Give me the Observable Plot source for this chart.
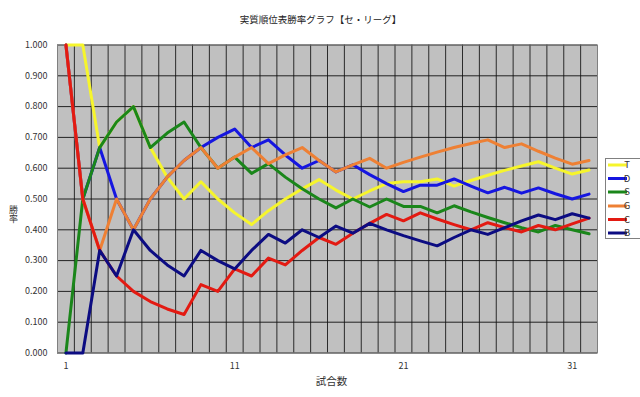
<!DOCTYPE html>
<html><head><meta charset="utf-8">
<script src="https://cdn.jsdelivr.net/npm/d3@7"></script>
<script src="https://cdn.jsdelivr.net/npm/@observablehq/plot@0.6"></script>
<style>
body{margin:0;background:#fff;}
svg{display:block}
.ylab text{writing-mode:vertical-rl;text-orientation:upright;}
</style>
</head><body><div id="chart"></div>
<script>
const titleText = "実質順位表勝率グラフ【セ・リーグ】";
const xLabel = "試合数";
const yLabel = "勝率";
const games = [1,2,3,4,5,6,7,8,9,10,11,12,13,14,15,16,17,18,19,20,21,22,23,24,25,26,27,28,29,30,31,32];
const teamNames = ["T","D","S","G","C","B"];
const teamColors = ["#f6f52c","#1616e0","#1a861a","#ee8034","#e31a12","#0c0c82"];
const T = [1.000,1.000,0.667,0.750,0.800,0.667,0.571,0.500,0.556,0.500,0.455,0.417,0.462,0.500,0.533,0.563,0.529,0.500,0.526,0.550,0.556,0.556,0.565,0.542,0.560,0.577,0.593,0.607,0.621,0.600,0.581,0.594];
const D = [1.000,0.500,0.667,0.500,0.400,0.500,0.571,0.625,0.667,0.700,0.727,0.667,0.692,0.643,0.600,0.625,0.588,0.611,0.579,0.550,0.524,0.545,0.545,0.565,0.542,0.520,0.538,0.519,0.536,0.517,0.500,0.516];
const S = [0.000,0.500,0.667,0.750,0.800,0.667,0.714,0.750,0.667,0.600,0.636,0.583,0.615,0.571,0.533,0.500,0.471,0.500,0.474,0.500,0.476,0.476,0.455,0.478,0.458,0.440,0.423,0.407,0.393,0.414,0.400,0.387];
const G = [1.000,0.500,0.333,0.500,0.400,0.500,0.571,0.625,0.667,0.600,0.636,0.667,0.615,0.643,0.667,0.625,0.588,0.611,0.632,0.600,0.619,0.636,0.652,0.667,0.680,0.692,0.667,0.679,0.655,0.633,0.613,0.625];
const C = [1.000,0.500,0.333,0.250,0.200,0.167,0.143,0.125,0.222,0.200,0.273,0.250,0.308,0.286,0.333,0.375,0.353,0.389,0.421,0.450,0.429,0.455,0.435,0.417,0.400,0.423,0.407,0.393,0.414,0.400,0.419,0.438];
const B = [0.000,0.000,0.333,0.250,0.400,0.333,0.286,0.250,0.333,0.300,0.273,0.333,0.385,0.357,0.400,0.375,0.412,0.389,0.421,0.400,0.381,0.364,0.348,0.375,0.400,0.385,0.407,0.429,0.448,0.433,0.452,0.438];
const yTicks = [0,0.1,0.2,0.3,0.4,0.5,0.6,0.7,0.8,0.9,1.0];
const xTickLabels = [1,11,21,31];

const series = [T,D,S,G,C,B];
const rows = teamNames.flatMap((t,i) => series[i].map((v,j) => ({team:t, game:games[j], rate:v})));
const boundaries = games.slice(0,-1).map(g => g + 0.5);
const font = "'Noto Sans CJK JP', 'Noto Sans', sans-serif";

const chart = Plot.plot({
  width: 640, height: 397,
  marginLeft: 57, marginRight: 43, marginTop: 44.5, marginBottom: 44.5,
  x: {domain: [0.5, 32.5], axis: null},
  y: {domain: [0, 1], axis: null},
  color: {domain: teamNames, range: teamColors},
  style: {fontFamily: font, fontSize: "9px", color: "#333", background: "#fff"},
  marks: [
    Plot.frame({fill: "#c0c0c0"}),
    Plot.gridY(yTicks, {stroke: "#111", strokeOpacity: 0.9, strokeWidth: 1}),
    Plot.ruleX(boundaries, {stroke: "#111", strokeOpacity: 0.85, strokeWidth: 1}),
    Plot.frame({stroke: "#808080"}),
    Plot.line(rows, {x: "game", y: "rate", z: "team", stroke: "team", strokeWidth: 3}),
    Plot.axisY({ticks: yTicks, tickFormat: d3.format(".3f"), tickSize: 0, tickPadding: 10, label: null, fill: "#333", fontSize: 9}),
    Plot.axisX({ticks: xTickLabels, tickSize: 0, tickPadding: 10, label: null, fill: "#333", fontSize: 9}),
    Plot.text([titleText], {frameAnchor: "top", dx: -7, dy: -28.5, fontSize: 9.5, fill: "#222"}),
    Plot.text([xLabel], {frameAnchor: "bottom", dx: 4, dy: 31.5, fontSize: 10.5, fill: "#333"}),
    Plot.text([yLabel], {frameAnchor: "left", dx: -44, dy: 3, fontSize: 9, fill: "#333", className: "ylab"})
  ]
});

const svg = d3.select(chart);
const lg = svg.append("g").attr("font-family", font).attr("font-size", 9.5);
lg.append("rect").attr("x", 605.5).attr("y", 158.5).attr("width", 40).attr("height", 80)
  .attr("fill", "#fff").attr("stroke", "#808080");
const legendY = [165, 178.5, 192, 206, 219.5, 233];
teamNames.forEach((t, i) => {
  lg.append("line").attr("x1", 608).attr("x2", 627).attr("y1", legendY[i]).attr("y2", legendY[i])
    .attr("stroke", teamColors[i]).attr("stroke-width", 3);
  lg.append("text").attr("x", 627).attr("y", legendY[i]).attr("dy", "0.35em").attr("fill", "#333").text(t);
});
document.getElementById("chart").appendChild(chart);
</script>
</body></html>
